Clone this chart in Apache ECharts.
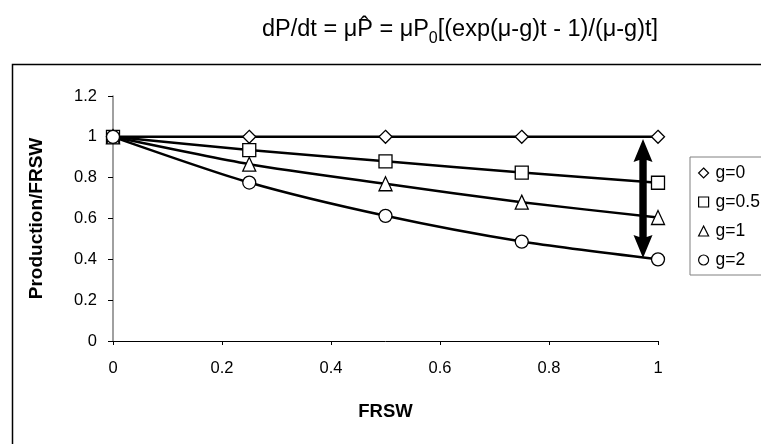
<!DOCTYPE html>
<html>
<head>
<meta charset="utf-8">
<script src="https://cdn.jsdelivr.net/npm/echarts@6/dist/echarts.min.js"></script>
<style>
  html, body { margin: 0; padding: 0; background: #fff; }
  #chart { width: 761px; height: 444px; }
</style>
</head>
<body>
<div id="chart"></div>
<script>
// Fraction of the run (FRSW) at which production is sampled
const frsw = [0, 0.25, 0.5, 0.75, 1];

// Production relative to FRSW for each growth rate g
const prodG0 = [1, 1, 1, 1, 1];
const prodG05 = [1, 0.935, 0.88, 0.825, 0.775];
const prodG1 = [1, 0.866, 0.77, 0.68, 0.605];
const prodG2 = [1, 0.776, 0.613, 0.487, 0.40];

const seriesNames = ['g=0', 'g=0.5', 'g=1', 'g=2'];
const seriesSymbols = ['diamond', 'rect', 'triangle', 'circle'];

const yTicks = [0, 0.2, 0.4, 0.6, 0.8, 1, 1.2];
const xTicks = [0, 0.2, 0.4, 0.6, 0.8, 1];

// Double-headed arrow spanning the spread between g=0 and g=2 at the end of the run
const arrowX = 0.9725;
const arrowTop = 0.99;
const arrowBottom = 0.407;

const FONT = '"Liberation Sans", Arial, sans-serif';

const allValues = [prodG0, prodG05, prodG1, prodG2];

const series = seriesNames.map((name, i) => ({
  name: name,
  type: 'line',
  data: frsw.map((x, k) => [x, allValues[i][k]]),
  smooth: i === 0 ? false : 0.25,
  symbol: seriesSymbols[i],
  symbolSize: i === 2 ? [13, 14] : 13,
  showSymbol: true,
  lineStyle: { color: '#000', width: 2.5 },
  itemStyle: { color: '#fff', borderColor: '#000', borderWidth: 1.3 },
  emphasis: { disabled: true },
  animation: false,
  z: 3
}));

// Arrow drawn as one polygon: pointed heads at both ends joined by a thick shaft
series.push({
  name: 'spread',
  type: 'custom',
  silent: true,
  animation: false,
  z: 4,
  data: [[arrowX, arrowTop, arrowBottom]],
  encode: { x: 0, y: [1, 2] },
  renderItem: function (params, api) {
    const top = api.coord([api.value(0), api.value(1)]);
    const bot = api.coord([api.value(0), api.value(2)]);
    const cx = top[0];
    const headH = 23, headW = 9.5, shaftW = 3.7;
    const pts = [
      [cx, top[1]],
      [cx + headW, top[1] + headH],
      [cx + shaftW, top[1] + headH - 2],
      [cx + shaftW, bot[1] - headH + 2],
      [cx + headW, bot[1] - headH],
      [cx, bot[1]],
      [cx - headW, bot[1] - headH],
      [cx - shaftW, bot[1] - headH + 2],
      [cx - shaftW, top[1] + headH - 2],
      [cx - headW, top[1] + headH]
    ];
    return {
      type: 'polygon',
      shape: { points: pts },
      style: { fill: '#000', stroke: 'none' }
    };
  }
});

const chart = echarts.init(document.getElementById('chart'), null, { renderer: 'canvas' });
chart.setOption({
  backgroundColor: '#fff',
  animation: false,
  title: {
    text: 'dP/dt = μP\u0302 = μP{sub|0}[(exp(μ-g)t - 1)/(μ-g)t]',
    left: 262,
    top: 13,
    padding: 0,
    textStyle: {
      fontFamily: FONT,
      fontSize: 23.5,
      fontWeight: 'normal',
      color: '#000',
      lineHeight: 34,
      rich: {
        sub: {
          fontFamily: FONT,
          fontSize: 16,
          color: '#000',
          lineHeight: 26,
          verticalAlign: 'bottom'
        }
      }
    }
  },
  graphic: [
    {
      type: 'rect',
      left: 10,
      top: 62,
      shape: { x: 0, y: 0, width: 800, height: 500 },
      style: { fill: 'none', stroke: '#000', lineWidth: 1.5 },
      silent: true,
      z: -1
    }
  ],
  legend: {
    orient: 'vertical',
    left: 690,
    top: 157,
    padding: [7, 40, 6, 8],
    itemGap: 11,
    itemWidth: 10,
    itemHeight: 10,
    borderColor: '#808080',
    borderWidth: 1,
    selectedMode: false,
    data: seriesNames.map((n, i) => ({ name: n, icon: seriesSymbols[i] })),
    itemStyle: { color: '#fff', borderColor: '#000', borderWidth: 1.2 },
    textStyle: { fontFamily: FONT, fontSize: 17.5, color: '#000', padding: [0, 0, 0, 2] }
  },
  grid: {
    left: 113,
    right: 103,
    top: 96,
    bottom: 103,
    containLabel: false
  },
  xAxis: {
    type: 'value',
    min: xTicks[0],
    max: xTicks[xTicks.length - 1],
    interval: 0.2,
    name: 'FRSW',
    nameLocation: 'middle',
    nameGap: 61,
    nameTextStyle: { fontFamily: FONT, fontSize: 18.5, fontWeight: 'bold', color: '#000' },
    axisLine: { lineStyle: { color: '#000', width: 1 } },
    axisTick: { show: true, length: 4, lineStyle: { color: '#000' } },
    axisLabel: { fontFamily: FONT, fontSize: 16.5, color: '#000', margin: 19 },
    splitLine: { show: false }
  },
  yAxis: {
    type: 'value',
    min: yTicks[0],
    max: yTicks[yTicks.length - 1],
    interval: 0.2,
    name: 'Production/FRSW',
    nameLocation: 'middle',
    nameGap: 67,
    nameTextStyle: { fontFamily: FONT, fontSize: 19, fontWeight: 'bold', color: '#000' },
    axisLine: { show: true, lineStyle: { color: '#808080', width: 1.5 } },
    axisTick: { show: true, length: 5, lineStyle: { color: '#000' } },
    axisLabel: { fontFamily: FONT, fontSize: 16.5, color: '#000', margin: 16 },
    splitLine: { show: false }
  },
  series: series
});
</script>
</body>
</html>
